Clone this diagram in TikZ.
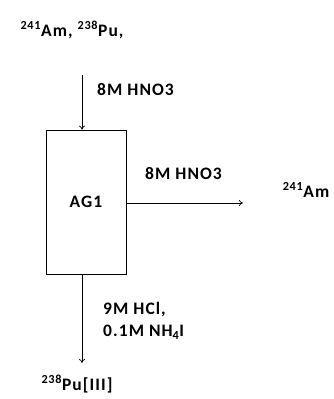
\documentclass[tikz,border=0pt]{standalone}
\usepackage{fontspec}
\setmainfont{Carlito}[LetterSpace=6]
\usepackage{tikz}
\usetikzlibrary{arrows.meta, positioning, calc}

\tikzset{
    lbl/.style={font=\bfseries\fontsize{17.5}{20}\selectfont, inner sep=0pt},
    flow/.style={-{To[length=4pt,width=6pt]}, line width=0.7pt}
}

\begin{document}
\begin{tikzpicture}[x=1pt, y=-1pt]
    \useasboundingbox (0,0) rectangle (333,399);

    % Column box
    \node[draw, line width=0.7pt, minimum width=80pt, minimum height=144pt, inner sep=0pt,
          font=\bfseries\fontsize{17.5}{20}\selectfont] (ag) at (86,202) {AG1};

    % Feed
    \node[lbl] (feed) at (72,30) {\textsuperscript{241}Am, \textsuperscript{238}Pu,};
    \coordinate (fin) at (82,75);
    \draw[flow] (fin) -- (fin |- ag.north);
    \node[lbl, anchor=west] (load) at (97,90) {8M HNO3};

    % Am fraction
    \coordinate (aout) at (243,203);
    \draw[flow] (aout -| ag.east) -- (aout);
    \node[lbl, anchor=west] (wash) at (145,174) {8M HNO3};
    \node[lbl] (am) at (306,190) {\textsuperscript{241}Am};

    % Pu fraction
    \coordinate (pout) at (82,363);
    \draw[flow] (pout |- ag.south) -- (pout);
    \node[lbl, anchor=west] (elu1) at (103,310) {9M HCl,};
    \node[lbl, anchor=west] (elu2) at (103,332) {0.1M NH\textsubscript{4}I};
    \node[lbl] (pu) at (77,384) {\textsuperscript{238}Pu[III]};
\end{tikzpicture}
\end{document}
